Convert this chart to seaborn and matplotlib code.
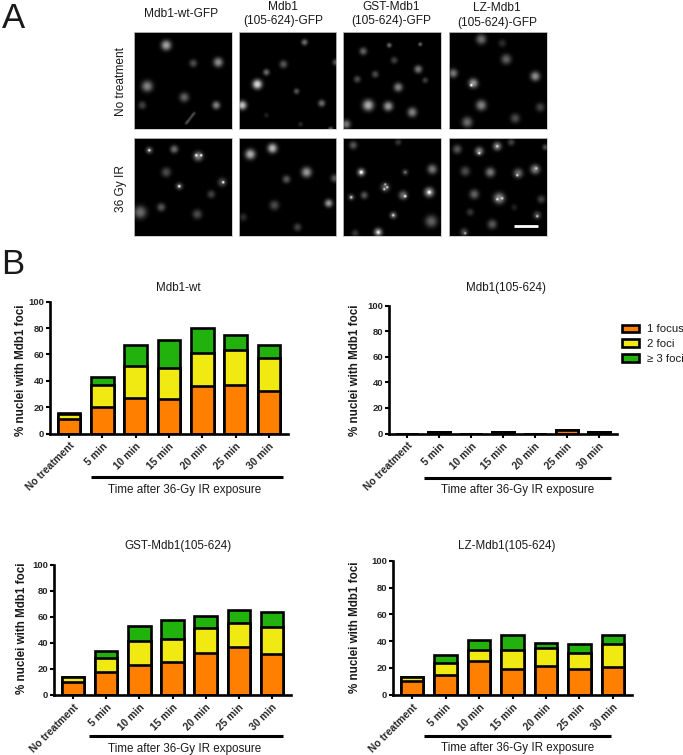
import numpy as np
import pandas as pd
import matplotlib.pyplot as plt
import seaborn as sns
from matplotlib.lines import Line2D
from matplotlib.patches import Patch

sns.set_style("white")
plt.rcParams["font.family"] = ["Liberation Sans", "DejaVu Sans"]

W, H = 683, 755

times = ["No treatment", "5 min", "10 min", "15 min", "20 min", "25 min", "30 min"]
y_ticks = [0, 20, 40, 60, 80, 100]

# % nuclei per foci class
wt_one = [11, 20, 27, 26.5, 36, 36.5, 32.5]
wt_two = [4, 16.5, 24, 23.5, 25, 27, 25]
wt_three = [0.5, 6.5, 16, 21, 19, 11.5, 9.5]

trunc_one = [0, 1, 0, 1, 0, 3, 1]
trunc_two = [0, 0, 0, 0, 0, 0, 0]
trunc_three = [0, 0, 0, 0, 0, 0, 0]

gst_one = [9.5, 17.5, 23, 25.5, 32, 37, 31.5]
gst_two = [4.5, 10.5, 18.5, 17.5, 19, 18, 20.5]
gst_three = [0, 5.5, 11.5, 14.5, 9.5, 10, 12]

lz_one = [10.5, 14.5, 25, 19, 21.5, 19, 21]
lz_two = [2.5, 9.5, 8.5, 14, 13.5, 12, 17]
lz_three = [0.5, 6, 7.5, 11.5, 3.5, 6.5, 6.5]

foci_labels = ["1 focus", "2 foci", "\u2265 3 foci"]
foci_colors = ["#ff8000", "#f0e912", "#22b20e"]

# nuclei in the micrographs: x, y, sigma, brightness (pixels inside each panel)
wt_none = [(32, 13, 3.2, .75), (59, 31, 2.5, .35), (84, 30, 3, .65), (13, 54, 3.5, .6), (50, 65, 3, .45),
           (8, 73, 2.5, .3), (82, 73, 2.5, .6), (52, 91, 1, .25), (53.3, 89.4, 1, .25), (54.6, 87.8, 1, .25),
           (56, 86, 1, .25), (57.3, 84.3, 1, .25), (58.6, 82.6, 1, .25), (60, 81, 1, .25)]
trunc_none = [(65, 10, 2, .5), (96, 30, 2, .4), (44, 32, 2.5, .4), (27, 40, 2, .5), (18, 52, 3, 1), (57, 59, 1.8, .4),
              (82, 71, 2.2, .5), (3, 73, 2.8, .9), (27, 83, 1.5, .15), (61, 92, 1.5, .2), (91, 97, 1.5, .5)]
gst_none = [(46, 13, 1.5, .5), (77, 12, 1.2, .5), (20, 19, 2.4, .45), (51, 28, 2.2, .3), (75, 37, 2.5, .55),
            (32, 42, 2.2, .35), (14, 47, 2.2, .35), (82, 48, 1.8, .3), (55, 55, 2.8, .6), (25, 73, 3.5, .8),
            (45, 74, 3, .7), (69, 80, 3, .6), (3, 92, 2.8, .55)]
lz_none = [(32, 7, 3.2, .5), (53, 11, 2.5, .2), (57, 27, 3.2, .45), (4, 41, 2.8, .55), (86, 44, 3, .65),
           (24, 51, 3, .7), (22, 53, .8, .8), (32, 73, 3.3, .6), (91, 75, 2.8, .3), (66, 86, 3, .35), (18, 90, 3.3, .5)]
wt_ir = [(15, 12, 2.2, .45), (15, 12, .7, .8), (40, 11, 2.5, .5), (64, 18, 3, .6), (62, 17, .8, .8), (67, 17, .8, .8),
         (32, 34, 3, .35), (45, 48, 2.3, .4), (45, 48, .8, .9), (88, 44, 2.8, .35), (89, 44, .8, .9), (77, 56, 2.5, .3),
         (27, 69, 2.6, .4), (6, 74, 4, .5), (63, 76, 3, .35)]
trunc_ir = [(11, 16, 3.2, .8), (33, 10, 3, .85), (67, 34, 3.2, .7), (47, 41, 2.5, .4), (95, 40, 2.5, .4),
            (89, 65, 2.5, .7), (35, 67, 3, .35), (4, 79, 2.5, .2), (58, 89, 2.5, .3)]
gst_ir = [(10, 7, 2.5, .4), (55, 4, 2, .25), (18, 34, 2.5, .7), (18, 34, 1, .6), (62, 34, 2, .3), (62, 34, .7, .3),
          (89, 31, 3, .55), (42, 49, 2.8, .45), (41, 51, .7, .7), (44, 49, .7, .7), (42, 46, .7, .6),
          (60, 57, 2.8, .5), (62, 58, .9, .7), (86, 54, 3, .75), (86, 54, 1, .5), (8, 59, 2, .4), (8, 59, .8, .6),
          (21, 57, 2.3, .4), (50, 77, 2.2, .5), (50, 77, .8, .5), (88, 83, 3.8, .45), (35, 94, 2.6, .75),
          (35, 94, .9, .4), (12, 95, 2.3, .25)]
lz_ir = [(8, 11, 2.8, .4), (30, 13, 2.7, .6), (30, 15, .8, .6), (48, 8, 2.7, .6), (48, 8, .8, .4), (62, 4, 2.2, .3),
         (96, 9, 1.8, .35), (16, 33, 3, .35), (41, 34, 3, .55), (69, 35, 3, .5), (68, 37, .8, .6), (86, 31, 3, .6),
         (87, 30, .8, .4), (25, 56, 3, .45), (50, 60, 3.5, .65), (48, 61, .8, .5), (53, 60, .8, .5), (92, 61, 2.5, .3),
         (65, 69, 2, .15), (21, 74, 2.3, .25), (88, 77, 2.5, .35), (88, 78, .8, .6), (43, 86, 3, .4), (15, 94, 2.5, .35),
         (16, 95, .8, .5)]


def px_axes(left, top, right, bottom):
    return fig.add_axes([left / W, 1 - bottom / H, (right - left) / W, (bottom - top) / H])


def px_text(x, y, s, **kw):
    kw.setdefault("ha", "center")
    kw.setdefault("va", "center")
    fig.text(x / W, 1 - y / H, s, color="#1a1a1a", **kw)


def micrograph(box, blobs):
    ax = px_axes(*box)
    w, h = box[2] - box[0], box[3] - box[1]
    yy, xx = np.mgrid[0:int(h * 2), 0:int(w * 2)] / 2
    img = np.zeros_like(xx)
    for x, y, s, b in blobs:
        r = np.hypot(xx - x, yy - y)
        # nuclei are dimmer and softer than the small foci on them
        if s > 1.1:
            img += 0.85 * b * np.exp(-(r / (1.55 * s)) ** 2.3)
        else:
            img += b * np.exp(-(r / (1.5 * s)) ** 3)
    ax.imshow(np.clip(img, 0, 1), cmap="gray", vmin=0, vmax=1, aspect="auto", interpolation="bilinear",
              extent=(0, w, h, 0))
    ax.set_xticks([])
    ax.set_yticks([])
    for sp in ax.spines.values():
        sp.set_color("#c8c8c8")
        sp.set_linewidth(0.6)
    return ax


def stacked(box, title, title_xy, ylabel_xy, line, time_xy, one, two, three):
    ax = px_axes(*box)
    df = pd.DataFrame({"time": times, "one": one, "two": two, "three": three})
    df["top1"] = df["one"]
    df["top2"] = df["one"] + df["two"]
    df["top3"] = df["top2"] + df["three"]
    # tallest first so the lower classes sit on top of it
    for col, c in zip(["top3", "top2", "top1"], foci_colors[::-1]):
        sns.barplot(data=df, x="time", y=col, color=c, saturation=1, width=0.68,
                    edgecolor="black", linewidth=1.9, ax=ax)
    ax.set_xlim(-0.57, 6.57)
    ax.set_ylim(0, 100)
    ax.set_yticks(y_ticks)
    ax.set_xlabel("")
    ax.set_ylabel("")
    ax.tick_params(axis="both", bottom=True, left=True, length=3.2, width=1.5, pad=1, color="black")
    ax.tick_params(axis="y", labelsize=6.8)
    ax.tick_params(axis="x", labelsize=7.4, pad=2)
    for lab in ax.get_yticklabels():
        lab.set_fontweight("bold")
    for lab in ax.get_xticklabels():
        lab.set_fontweight("bold")
        lab.set_rotation(45)
        lab.set_ha("right")
        lab.set_rotation_mode("anchor")
    sns.despine(ax=ax)
    for side in ["left", "bottom"]:
        ax.spines[side].set_linewidth(1.9)
        ax.spines[side].set_color("black")
    px_text(*title_xy, title, fontsize=8.4)
    px_text(*ylabel_xy, "% nuclei with Mdb1 foci", fontsize=8.4, fontweight="bold", rotation=90)
    x0, x1, y = line
    fig.add_artist(Line2D([x0 / W, x1 / W], [1 - y / H, 1 - y / H], color="black", lw=2.2, solid_capstyle="butt"))
    px_text(*time_xy, "Time after 36-Gy IR exposure", fontsize=8.4)
    return ax


fig = plt.figure(figsize=(W / 100, H / 100), dpi=100)

cols = [(133.5, 231.5), (238.5, 336), (343.5, 441.5), (448.5, 546.5)]
rows = [(32, 129), (138, 236)]
images = [[wt_none, trunc_none, gst_none, lz_none], [wt_ir, trunc_ir, gst_ir, lz_ir]]
for (top, bottom), row_imgs in zip(rows, images):
    for (left, right), blobs in zip(cols, row_imgs):
        last = micrograph((left, top, right, bottom), blobs)
# scale bar
last.plot([65.5, 89.5], [88, 88], color="white", lw=2, solid_capstyle="butt")

px_text(181, 14, "Mdb1-wt-GFP", fontsize=8.6)
px_text(283, 14, "Mdb1\n(105-624)-GFP", fontsize=8.6, linespacing=1.25)
px_text(391, 14, "GST-Mdb1\n(105-624)-GFP", fontsize=8.6, linespacing=1.25)
px_text(497, 15.5, "LZ-Mdb1\n(105-624)-GFP", fontsize=8.6, linespacing=1.25)
px_text(121, 82, "No treatment", fontsize=8.6, rotation=90)
px_text(121, 188, "36 Gy IR", fontsize=8.6, rotation=90)

px_text(2, 18, "A", fontsize=25, ha="left")
px_text(1, 265, "B", fontsize=25, ha="left")

stacked((50, 301.7, 288, 433.5), "Mdb1-wt", (178, 288), (21, 370), (91, 283, 477), (185, 490),
        wt_one, wt_two, wt_three)
stacked((389, 305.7, 617, 433.5), "Mdb1(105-624)", (506, 288), (355, 370), (424, 611, 478), (518, 490),
        trunc_one, trunc_two, trunc_three)
stacked((54, 564.7, 291, 694.7), "GST-Mdb1(105-624)", (178, 546), (22, 628), (89, 283, 736), (185, 749),
        gst_one, gst_two, gst_three)
stacked((393, 560.7, 632, 694.7), "LZ-Mdb1(105-624)", (507, 546), (355, 627), (424, 611, 736), (518, 748),
        lz_one, lz_two, lz_three)

handles = [Patch(facecolor=c, edgecolor="black", linewidth=1.9, label=l) for c, l in zip(foci_colors, foci_labels)]
fig.legend(handles=handles, loc="upper left", bbox_to_anchor=(619 / W, 1 - 321 / H), frameon=False,
           fontsize=8.2, handlelength=1.42, handleheight=0.68, handletextpad=0.7, labelspacing=0.42,
           borderpad=0, borderaxespad=0.3, labelcolor="#1a1a1a")

fig.savefig("out.png", dpi=100)
